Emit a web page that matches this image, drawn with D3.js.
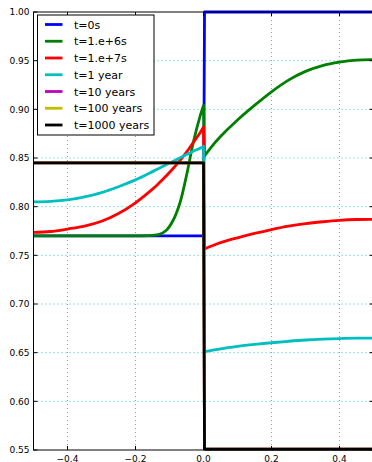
<!DOCTYPE html>
<html>
<head>
<meta charset="utf-8">
<script src="https://cdn.jsdelivr.net/npm/d3@7"></script>
<style>
  html, body { margin: 0; padding: 0; background: #fff; }
  svg { display: block; font-family: "DejaVu Sans", sans-serif; }
</style>
</head>
<body>
<svg id="chart" width="372" height="462"></svg>
<script>
// Sample positions on each side of the interface at x = 0
const xLeft  = [-0.5, -0.45, -0.4, -0.35, -0.3, -0.25, -0.2, -0.15, -0.13, -0.11, -0.09, -0.07, -0.05, -0.03, -0.01, 0];
const xRight = [0.003, 0.02, 0.05, 0.1, 0.15, 0.2, 0.25, 0.3, 0.35, 0.4, 0.45, 0.5];

const seriesNames  = ["t=0s", "t=1.e+6s", "t=1.e+7s", "t=1 year", "t=10 years", "t=100 years", "t=1000 years"];
const seriesColors = ["#0000ff", "#008000", "#ff0000", "#00bfbf", "#bf00bf", "#bfbf00", "#000000"];

// Profile values left of the interface (on xLeft)
const leftT0    = [0.770, 0.770, 0.770, 0.770, 0.770, 0.770, 0.770, 0.770, 0.770, 0.770, 0.770, 0.770, 0.770, 0.770, 0.770, 0.770];
const leftT1e6  = [0.770, 0.770, 0.770, 0.770, 0.770, 0.770, 0.770, 0.7705, 0.7715, 0.7755, 0.7855, 0.803, 0.832, 0.866, 0.893, 0.904];
const leftT1e7  = [0.7735, 0.7745, 0.777, 0.780, 0.785, 0.793, 0.804, 0.818, 0.8245, 0.8315, 0.839, 0.847, 0.856, 0.866, 0.876, 0.882];
const leftT1y   = [0.805, 0.8055, 0.807, 0.810, 0.8145, 0.8205, 0.8275, 0.836, 0.8395, 0.843, 0.8465, 0.850, 0.8535, 0.857, 0.860, 0.862];
const leftT10y  = [0.845, 0.845, 0.845, 0.845, 0.845, 0.845, 0.845, 0.845, 0.845, 0.845, 0.845, 0.845, 0.845, 0.845, 0.845, 0.845];
const leftT100y = [0.845, 0.845, 0.845, 0.845, 0.845, 0.845, 0.845, 0.845, 0.845, 0.845, 0.845, 0.845, 0.845, 0.845, 0.845, 0.845];
const leftT1000y= [0.845, 0.845, 0.845, 0.845, 0.845, 0.845, 0.845, 0.845, 0.845, 0.845, 0.845, 0.845, 0.845, 0.845, 0.845, 0.845];

// Profile values right of the interface (on xRight)
const rightT0    = [1.0, 1.0, 1.0, 1.0, 1.0, 1.0, 1.0, 1.0, 1.0, 1.0, 1.0, 1.0];
const rightT1e6  = [0.852, 0.860, 0.872, 0.889, 0.904, 0.918, 0.930, 0.939, 0.945, 0.9485, 0.9505, 0.951];
const rightT1e7  = [0.7565, 0.759, 0.763, 0.768, 0.7725, 0.7765, 0.780, 0.7826, 0.7845, 0.786, 0.7868, 0.787];
const rightT1y   = [0.651, 0.652, 0.654, 0.6565, 0.6585, 0.6602, 0.6617, 0.663, 0.6639, 0.6645, 0.6649, 0.665];
const rightT10y  = [0.551, 0.551, 0.551, 0.551, 0.551, 0.551, 0.551, 0.551, 0.551, 0.551, 0.551, 0.551];
const rightT100y = [0.551, 0.551, 0.551, 0.551, 0.551, 0.551, 0.551, 0.551, 0.551, 0.551, 0.551, 0.551];
const rightT1000y= [0.551, 0.551, 0.551, 0.551, 0.551, 0.551, 0.551, 0.551, 0.551, 0.551, 0.551, 0.551];

const leftValues  = [leftT0, leftT1e6, leftT1e7, leftT1y, leftT10y, leftT100y, leftT1000y];
const rightValues = [rightT0, rightT1e6, rightT1e7, rightT1y, rightT10y, rightT100y, rightT1000y];

const xTicks = [-0.4, -0.2, 0.0, 0.2, 0.4];
const xTickLabels = ["\u22120.4", "\u22120.2", "0.0", "0.2", "0.4"];
const yTicks = [0.55, 0.60, 0.65, 0.70, 0.75, 0.80, 0.85, 0.90, 0.95, 1.00];
const yTickLabels = ["0.55", "0.60", "0.65", "0.70", "0.75", "0.80", "0.85", "0.90", "0.95", "1.00"];

const margin = { left: 33.5, top: 12 };
const width = 340, height = 438;

const svg = d3.select("#chart");
const g = svg.append("g").attr("transform", `translate(${margin.left},${margin.top})`);

const x = d3.scaleLinear().domain([-0.5, 0.5]).range([0, width]);
const y = d3.scaleLinear().domain([0.55, 1.0]).range([height, 0]);

svg.append("defs").append("clipPath").attr("id", "plotClip")
  .append("rect").attr("x", -2).attr("y", -2).attr("width", width + 4).attr("height", height + 4);

// Dotted grid
const gridColor = "#33c9c9";
g.append("g").selectAll("line").data(xTicks).join("line")
  .attr("x1", d => x(d)).attr("x2", d => x(d)).attr("y1", 0).attr("y2", height)
  .attr("stroke", gridColor).attr("stroke-width", 1).attr("stroke-dasharray", "1,3");
g.append("g").selectAll("line").data(yTicks.filter(d => d > 0.55 && d < 1.0)).join("line")
  .attr("y1", d => y(d)).attr("y2", d => y(d)).attr("x1", 0).attr("x2", width)
  .attr("stroke", gridColor).attr("stroke-width", 1).attr("stroke-dasharray", "1,3");

// Profile curves: smooth on each side, straight jump across x = 0
const lineGen = d3.line().x(d => x(d[0])).y(d => y(d[1])).curve(d3.curveCatmullRom.alpha(0.5));
const lines = g.append("g").attr("clip-path", "url(#plotClip)");
seriesNames.forEach((name, i) => {
  const left = xLeft.map((xv, j) => [xv, leftValues[i][j]]);
  const right = xRight.map((xv, j) => [xv, rightValues[i][j]]);
  const d = lineGen(left) + lineGen(right).replace(/^M/, "L");
  lines.append("path")
    .attr("d", d)
    .attr("fill", "none")
    .attr("stroke", seriesColors[i])
    .attr("stroke-width", 2.8)
    .attr("stroke-linejoin", "round");
});

// Frame
g.append("rect").attr("width", width).attr("height", height)
  .attr("fill", "none").attr("stroke", "#000").attr("stroke-width", 1);

// Inward ticks on all four sides
const tickLen = 4;
const ticks = g.append("g").attr("stroke", "#000").attr("stroke-width", 1);
xTicks.forEach(t => {
  ticks.append("line").attr("x1", x(t)).attr("x2", x(t)).attr("y1", height).attr("y2", height - tickLen);
  ticks.append("line").attr("x1", x(t)).attr("x2", x(t)).attr("y1", 0).attr("y2", tickLen);
});
yTicks.forEach(t => {
  ticks.append("line").attr("y1", y(t)).attr("y2", y(t)).attr("x1", 0).attr("x2", tickLen);
  ticks.append("line").attr("y1", y(t)).attr("y2", y(t)).attr("x1", width).attr("x2", width - tickLen);
});

// Tick labels
g.append("g").selectAll("text").data(xTicks).join("text")
  .attr("x", d => x(d)).attr("y", height + 11.5)
  .attr("text-anchor", "middle").attr("font-size", 9).attr("fill", "#000")
  .text((d, i) => xTickLabels[i]);
g.append("g").selectAll("text").data(yTicks).join("text")
  .attr("x", -4).attr("y", d => y(d) + 3.3)
  .attr("text-anchor", "end").attr("font-size", 9).attr("fill", "#000")
  .text((d, i) => yTickLabels[i]);

// Legend
const legend = svg.append("g").attr("transform", "translate(37.5,15)");
legend.append("rect").attr("width", 116.5).attr("height", 120)
  .attr("fill", "#fff").attr("stroke", "#000").attr("stroke-width", 1);
seriesNames.forEach((name, i) => {
  const cy = 9.5 + i * 16.75;
  legend.append("line").attr("x1", 7.5).attr("x2", 25).attr("y1", cy).attr("y2", cy)
    .attr("stroke", seriesColors[i]).attr("stroke-width", 2.8);
  legend.append("text").attr("x", 36.5).attr("y", cy + 4)
    .attr("font-size", 11).attr("fill", "#000").text(name);
});
</script>
</body>
</html>
